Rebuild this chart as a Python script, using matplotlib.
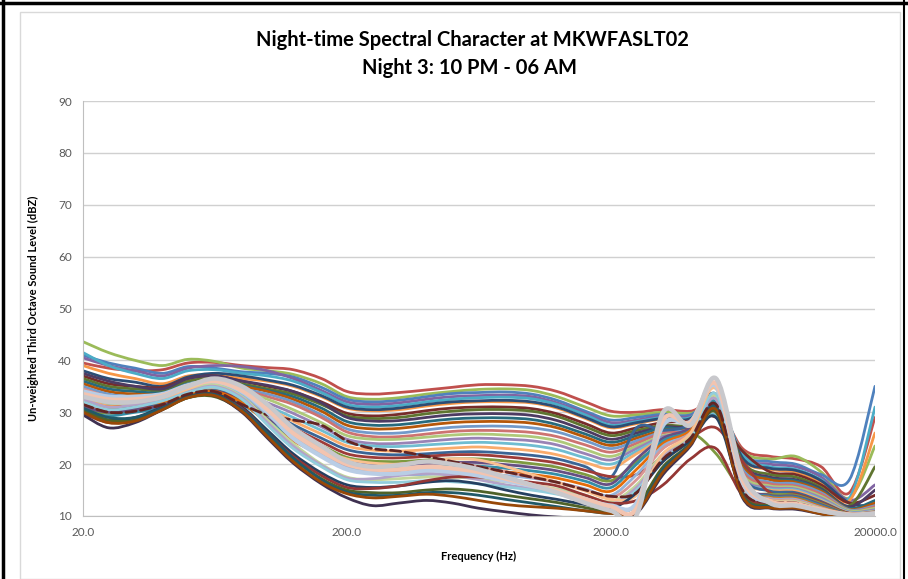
import numpy as np
import matplotlib
matplotlib.use("Agg")
from matplotlib import pyplot as plt
from matplotlib.path import Path
from matplotlib.patches import PathPatch, Rectangle
from matplotlib.lines import Line2D

# third-octave band centre frequencies (Hz)
freqs = [20, 25, 31.5, 40, 50, 63, 80, 100, 125, 160, 200, 250, 315, 400, 500,
         630, 800, 1000, 1250, 1600, 2000, 2500, 3150, 4000, 5000, 6300, 8000,
         10000, 12500, 16000, 20000]

# upper (louder) spectra
a01 = [39.5, 38.5, 38.0, 38.2, 39.5, 39.6, 39.0, 38.6, 38.2, 36.5, 34.0, 33.5, 33.8, 34.3, 34.8, 35.3, 35.3, 35.0, 34.0, 32.0, 30.2, 30.0, 30.5, 30.2, 31.5, 23.0, 21.5, 21.0, 19.5, 14.5, 29.0]
a02 = [43.6, 41.5, 40.0, 39.0, 40.2, 39.8, 38.5, 38.0, 37.3, 35.5, 33.0, 32.5, 32.8, 33.5, 34.0, 34.4, 34.5, 34.2, 33.0, 31.0, 29.3, 29.5, 30.0, 29.8, 31.0, 22.5, 21.0, 21.5, 18.5, 13.5, 23.5]
a03 = [41.0, 39.5, 38.5, 37.5, 38.8, 38.5, 37.8, 37.5, 36.8, 34.8, 32.5, 32.0, 32.3, 33.0, 33.6, 33.8, 33.9, 33.5, 32.3, 30.2, 28.5, 29.0, 29.6, 29.5, 32.5, 22.0, 20.5, 20.0, 18.0, 17.0, 35.0]
a04 = [40.5, 39.0, 38.0, 37.0, 38.5, 39.0, 38.8, 38.0, 36.5, 34.2, 32.0, 31.5, 31.8, 32.5, 33.0, 33.2, 33.3, 33.0, 31.8, 29.8, 28.0, 28.5, 29.3, 29.2, 32.0, 21.5, 20.0, 19.5, 17.5, 13.0, 16.0]
a05 = [41.5, 39.0, 37.5, 36.5, 38.0, 38.2, 37.5, 37.0, 36.0, 33.8, 31.5, 31.0, 31.3, 32.0, 32.5, 32.8, 32.9, 32.6, 31.5, 29.5, 27.5, 28.2, 29.0, 29.0, 33.0, 21.8, 19.5, 19.0, 17.0, 13.5, 31.0]
a06 = [39.0, 37.5, 36.5, 35.5, 37.0, 37.2, 36.5, 36.0, 35.0, 33.0, 30.8, 30.3, 30.5, 31.2, 31.7, 32.0, 32.0, 31.8, 30.8, 28.8, 27.0, 27.8, 28.7, 28.6, 32.5, 21.0, 19.0, 18.5, 16.5, 13.0, 26.0]
a07 = [38.0, 36.5, 35.8, 35.0, 36.8, 37.5, 37.0, 36.2, 35.2, 33.2, 31.0, 30.5, 30.8, 31.5, 32.0, 32.2, 32.3, 32.0, 31.0, 29.0, 27.2, 28.0, 28.8, 28.8, 33.5, 21.2, 19.2, 18.8, 16.8, 12.5, 12.0]
a08 = [37.0, 35.5, 35.0, 34.8, 36.5, 37.0, 36.0, 35.0, 34.0, 32.0, 29.8, 29.3, 29.6, 30.3, 30.8, 31.0, 31.0, 30.7, 29.7, 27.8, 26.0, 27.0, 28.0, 28.3, 29.0, 22.5, 18.5, 18.0, 16.0, 12.5, 14.0]
a09 = [36.5, 35.0, 34.5, 34.2, 36.0, 36.5, 35.5, 34.5, 33.5, 31.5, 29.3, 28.8, 29.0, 29.7, 30.2, 30.5, 30.5, 30.2, 29.2, 27.2, 25.5, 26.5, 27.5, 27.8, 33.0, 20.5, 18.0, 17.5, 15.5, 12.0, 19.5]
a10 = [37.5, 36.0, 35.0, 34.5, 36.5, 37.0, 36.0, 35.2, 34.0, 31.8, 29.0, 28.3, 28.4, 29.0, 29.5, 29.7, 29.7, 29.4, 28.4, 26.5, 24.8, 26.0, 27.2, 27.5, 32.5, 20.0, 17.5, 17.0, 15.2, 11.8, 15.0]
a11 = [36.0, 34.5, 34.0, 33.8, 35.5, 36.0, 35.2, 34.2, 33.0, 30.8, 28.2, 27.5, 27.6, 28.2, 28.7, 28.9, 28.9, 28.6, 27.6, 25.8, 24.2, 25.5, 27.0, 27.2, 33.0, 19.8, 17.2, 16.8, 15.0, 11.5, 13.0]
a12 = [35.5, 34.0, 33.5, 33.5, 35.0, 35.8, 35.0, 34.0, 32.5, 30.2, 27.5, 26.8, 26.9, 27.5, 28.0, 28.2, 28.2, 27.9, 27.0, 25.2, 23.6, 25.0, 26.5, 27.0, 32.0, 19.5, 17.0, 16.5, 14.8, 11.3, 12.5]
a13 = [35.0, 33.5, 33.0, 33.2, 34.8, 35.5, 34.5, 33.5, 32.0, 29.5, 26.8, 26.0, 26.0, 26.6, 27.1, 27.3, 27.3, 27.0, 26.2, 24.5, 23.0, 24.5, 26.2, 26.8, 31.5, 19.0, 16.5, 16.2, 14.5, 11.2, 12.0]
a14 = [34.5, 33.0, 32.5, 32.8, 34.5, 35.2, 34.3, 33.0, 31.5, 29.0, 26.2, 25.3, 25.3, 25.8, 26.3, 26.5, 26.4, 26.1, 25.3, 23.7, 22.3, 24.0, 26.0, 26.5, 31.0, 18.5, 16.2, 15.8, 14.2, 11.0, 11.8]

# middle spectra
b01 = [34.0, 32.5, 32.2, 32.5, 34.2, 35.0, 34.0, 32.5, 30.5, 28.0, 25.5, 24.8, 24.8, 25.2, 25.6, 25.8, 25.6, 25.3, 24.5, 22.8, 21.5, 23.5, 25.5, 26.2, 30.5, 18.0, 15.8, 15.5, 13.8, 11.0, 11.5]
b02 = [33.5, 32.0, 32.0, 32.3, 34.0, 34.8, 33.5, 31.8, 29.8, 27.2, 24.8, 24.0, 24.0, 24.4, 24.8, 25.0, 24.8, 24.5, 23.7, 22.0, 20.8, 23.0, 25.3, 26.0, 30.0, 17.5, 15.5, 15.2, 13.5, 10.8, 11.2]
b03 = [33.0, 31.5, 31.5, 32.0, 33.8, 34.6, 33.2, 31.2, 29.0, 26.5, 24.2, 23.5, 23.4, 23.7, 24.0, 24.2, 24.0, 23.6, 22.8, 21.2, 20.0, 22.5, 25.0, 25.8, 29.5, 17.2, 15.2, 15.0, 13.2, 10.7, 11.0]
b04 = [32.5, 31.2, 31.2, 31.8, 33.6, 34.4, 33.0, 30.8, 28.3, 25.8, 23.5, 22.7, 22.5, 22.8, 23.1, 23.3, 23.0, 22.6, 21.8, 20.3, 19.2, 22.0, 24.8, 25.7, 30.0, 17.0, 15.0, 14.8, 13.0, 10.6, 10.9]
b05 = [32.0, 30.8, 31.0, 31.6, 33.4, 34.2, 32.7, 30.3, 27.6, 25.0, 22.8, 22.0, 21.8, 22.0, 22.3, 22.4, 22.1, 21.7, 21.0, 19.5, 17.5, 27.0, 26.5, 27.5, 31.0, 17.5, 14.8, 14.5, 12.8, 10.5, 10.8]
b06 = [31.5, 30.5, 30.7, 31.3, 33.2, 34.0, 32.3, 29.8, 27.0, 24.3, 22.0, 21.3, 21.2, 21.5, 21.8, 21.8, 21.4, 20.9, 20.2, 18.8, 17.6, 18.0, 21.5, 25.0, 27.0, 20.5, 14.5, 14.2, 12.6, 10.5, 10.7]
b07 = [30.5, 29.8, 30.3, 31.0, 33.0, 33.8, 32.0, 29.3, 26.3, 23.6, 21.3, 20.6, 20.5, 20.8, 21.0, 21.0, 20.6, 20.1, 19.4, 18.0, 16.8, 20.5, 24.0, 26.0, 22.0, 15.0, 14.2, 14.0, 12.4, 10.4, 10.6]
b08 = [31.0, 30.0, 30.5, 31.2, 33.0, 33.7, 31.7, 28.8, 25.7, 23.0, 20.7, 20.0, 19.9, 20.1, 20.3, 20.3, 19.9, 19.4, 18.7, 17.4, 16.2, 21.0, 25.0, 27.0, 32.0, 16.5, 14.0, 13.8, 12.2, 10.3, 10.5]
b09 = [30.0, 29.3, 30.0, 30.8, 32.8, 33.5, 31.5, 28.3, 25.0, 22.3, 20.0, 19.3, 19.2, 19.4, 19.6, 19.6, 19.2, 18.7, 18.0, 16.7, 15.5, 20.0, 24.5, 26.5, 32.0, 16.2, 13.8, 13.6, 12.0, 10.2, 10.4]
b10 = [32.0, 31.0, 31.5, 32.0, 33.5, 34.0, 31.8, 28.0, 24.5, 21.8, 19.5, 18.8, 18.6, 18.8, 19.0, 19.0, 18.5, 18.0, 17.3, 16.0, 14.8, 19.0, 24.0, 26.5, 33.0, 16.0, 13.6, 13.4, 11.8, 10.2, 10.3]
b11 = [33.5, 32.0, 32.0, 32.5, 34.0, 35.5, 33.5, 29.5, 25.5, 22.0, 19.5, 18.5, 18.0, 18.0, 18.2, 18.2, 17.8, 17.3, 16.5, 15.2, 14.0, 18.0, 23.5, 26.0, 32.5, 15.8, 13.4, 13.2, 11.6, 10.1, 10.2]
b12 = [34.5, 33.0, 32.5, 33.0, 34.5, 36.0, 34.0, 30.0, 26.0, 22.5, 19.8, 19.5, 20.0, 20.5, 20.3, 19.5, 18.5, 17.5, 16.5, 15.0, 13.5, 17.0, 23.0, 26.0, 33.0, 15.5, 13.2, 13.0, 11.5, 10.0, 10.1]

# lower (quieter) spectra
c01 = [33.0, 31.8, 31.8, 32.5, 34.3, 35.3, 33.0, 28.5, 24.0, 20.0, 17.5, 17.0, 17.2, 17.5, 17.5, 17.2, 16.6, 16.0, 15.2, 14.0, 12.8, 16.0, 22.0, 25.5, 33.0, 15.2, 13.0, 12.8, 11.4, 10.0, 10.0]
c02 = [32.5, 31.0, 31.5, 32.5, 34.0, 35.0, 32.8, 28.0, 23.5, 19.8, 17.3, 17.2, 17.8, 18.2, 17.8, 17.0, 16.0, 15.3, 14.6, 13.4, 12.3, 15.5, 21.5, 25.0, 32.5, 15.0, 12.8, 12.6, 11.2, 10.0, 10.0]
c03 = [32.0, 30.5, 31.0, 32.2, 33.8, 34.8, 32.5, 27.5, 23.0, 19.5, 17.0, 16.5, 16.5, 16.8, 16.6, 16.2, 15.6, 15.0, 14.2, 13.0, 12.0, 15.0, 21.0, 24.8, 33.5, 14.8, 12.6, 12.4, 11.0, 10.0, 10.0]
c04 = [34.0, 32.5, 32.0, 32.8, 34.5, 36.2, 34.5, 30.5, 26.5, 23.0, 21.0, 20.2, 20.0, 20.5, 21.0, 20.8, 19.5, 18.0, 16.5, 14.8, 13.2, 14.0, 22.0, 26.0, 34.5, 16.0, 13.0, 12.6, 11.0, 10.0, 10.0]
c05 = [30.0, 28.5, 29.0, 31.0, 33.0, 33.5, 31.0, 26.5, 22.0, 18.3, 16.0, 15.5, 15.8, 16.5, 16.8, 16.2, 15.0, 14.0, 13.2, 12.2, 11.5, 14.5, 20.5, 24.5, 29.0, 14.5, 12.4, 12.2, 10.8, 9.8, 10.0]
c06 = [29.8, 28.0, 28.5, 30.8, 33.0, 33.3, 30.7, 26.0, 21.5, 17.8, 15.5, 15.3, 15.8, 16.8, 17.5, 17.5, 17.0, 16.5, 15.8, 14.0, 12.5, 13.0, 16.0, 21.0, 23.0, 14.0, 12.2, 12.0, 10.7, 9.7, 10.0]
c07 = [30.5, 28.5, 28.5, 30.5, 32.8, 33.0, 30.2, 25.5, 21.0, 17.2, 15.0, 14.5, 14.5, 15.0, 15.2, 14.8, 14.0, 13.3, 12.6, 11.6, 10.8, 12.0, 19.5, 24.0, 30.0, 14.2, 12.0, 11.8, 10.6, 9.6, 10.0]
c08 = [29.5, 27.0, 28.0, 30.5, 33.0, 33.2, 30.0, 25.0, 20.2, 16.2, 13.5, 12.0, 12.5, 13.0, 12.5, 11.5, 10.8, 10.2, 9.8, 9.5, 9.3, 10.5, 18.0, 23.5, 30.5, 13.5, 11.5, 11.3, 10.4, 9.5, 10.0]
c09 = [30.8, 29.0, 29.0, 30.8, 33.0, 33.4, 30.5, 26.0, 21.2, 17.0, 14.6, 14.0, 14.0, 14.5, 14.5, 14.0, 13.2, 12.5, 11.8, 11.0, 10.5, 11.0, 19.0, 24.0, 31.0, 14.0, 11.8, 11.6, 10.5, 9.6, 10.0]
c10 = [30.0, 28.0, 28.3, 30.5, 32.8, 33.2, 30.2, 25.3, 20.5, 16.5, 14.3, 13.5, 13.8, 14.2, 13.8, 13.0, 12.2, 11.8, 11.5, 11.0, 10.5, 10.8, 18.5, 23.8, 30.5, 13.8, 11.6, 11.5, 10.4, 9.5, 10.0]
c11 = [31.5, 30.0, 30.2, 31.5, 33.5, 34.0, 31.5, 29.5, 28.5, 27.5, 24.5, 23.0, 22.5, 21.5, 20.5, 19.5, 18.5, 17.5, 16.5, 15.0, 13.8, 14.5, 21.0, 25.0, 31.5, 15.0, 12.8, 12.5, 11.2, 10.0, 10.0]
c12 = [34.0, 33.0, 33.0, 33.5, 35.2, 36.0, 34.0, 30.0, 25.0, 21.5, 19.0, 18.2, 18.2, 18.8, 18.5, 17.8, 16.8, 15.8, 14.8, 13.2, 12.0, 12.5, 27.5, 28.2, 35.0, 16.5, 12.6, 12.2, 11.0, 10.2, 10.3]
c13 = [33.5, 32.5, 32.5, 33.2, 35.0, 36.0, 34.2, 30.5, 26.0, 22.5, 20.0, 19.0, 19.0, 19.5, 19.2, 18.5, 17.2, 16.0, 14.8, 13.2, 11.8, 11.5, 28.5, 28.0, 35.5, 17.0, 12.8, 12.3, 11.2, 10.3, 10.5]
c14 = [33.0, 32.0, 32.0, 33.0, 35.0, 36.5, 35.0, 31.5, 27.0, 23.5, 20.5, 19.5, 19.8, 20.5, 20.0, 19.0, 17.5, 16.0, 14.5, 12.5, 11.0, 10.2, 30.0, 27.5, 36.5, 18.0, 12.5, 12.0, 11.0, 10.2, 10.5]

series = [a01, a02, a03, a04, a05, a06, a07, a08, a09, a10, a11, a12, a13, a14,
          b01, b02, b03, b04, b05, b06, b07, b08, b09, b10, b11, b12,
          c01, c02, c03, c04, c05, c06, c07, c08, c09, c10, c11, c12, c13, c14]

colors = ["#C0504D", "#9BBB59", "#4F81BD", "#8064A2", "#4BACC6", "#F79646",
          "#2C4D75", "#772C2A", "#5F7530", "#4D3B62", "#276A7C", "#B65708",
          "#729ACA", "#CD7371",
          "#AFC97A", "#9983B5", "#6FBDD1", "#F9AB6B", "#3A6595", "#9E3B38",
          "#7E9A40", "#664F83", "#358DA6", "#E46C0A", "#95B3D7", "#D99694",
          "#C3D69B", "#B3A2C7", "#92CDDC", "#FAC090", "#254061", "#943634",
          "#4F6228", "#3F3151", "#215968", "#984807", "#632523", "#B9CDE5",
          "#F2C4B0", "#C8C8CC"]


def smooth_path(x, y):
    # Excel-like smoothed line: cubic Bezier through every point (log-x space)
    lx = np.log10(x)
    y = np.asarray(y, dtype=float)
    n = len(lx)
    verts = [(x[0], y[0])]
    codes = [Path.MOVETO]
    for i in range(n - 1):
        i0 = max(i - 1, 0)
        i3 = min(i + 2, n - 1)
        c1 = (lx[i] + (lx[i + 1] - lx[i0]) / 6, y[i] + (y[i + 1] - y[i0]) / 6)
        c2 = (lx[i + 1] - (lx[i3] - lx[i]) / 6, y[i + 1] - (y[i3] - y[i]) / 6)
        verts += [(10 ** c1[0], c1[1]), (10 ** c2[0], c2[1]), (x[i + 1], y[i + 1])]
        codes += [Path.CURVE4] * 3
    return Path(verts, codes)


plt.rcParams["font.family"] = ["Lato", "DejaVu Sans"]

fig = plt.figure(figsize=(9.08, 5.79), dpi=100)
ax = fig.add_axes([83 / 908, 1 - 516 / 579, (875 - 83) / 908, (516 - 101) / 579])
ax.set_xscale("log")

for i, (vals, col) in enumerate(zip(series, colors)):
    lw = 3.2 if i >= len(series) - 3 else 2.0
    ls = "--" if vals is c11 else "-"
    patch = PathPatch(smooth_path(freqs, vals), facecolor="none", edgecolor=col,
                      lw=lw, ls=ls, capstyle="round", joinstyle="round", zorder=2 + i * 0.01)
    ax.add_patch(patch)

ax.set_xlim(20, 20000)
ax.set_ylim(10, 90)
ax.set_yticks(range(10, 91, 10))
ax.set_xticks([20, 200, 2000, 20000])
ax.set_xticklabels(["20.0", "200.0", "2000.0", "20000.0"])
ax.minorticks_off()
ax.tick_params(length=0, labelsize=8.5, colors="#595959", pad=8)
ax.grid(axis="y", color="#D0D0D0", lw=1)
ax.set_axisbelow(True)
for side in ["top", "right"]:
    ax.spines[side].set_visible(False)
for side in ["left", "bottom"]:
    ax.spines[side].set_color("#BFBFBF")

ax.set_xlabel("Frequency (Hz)", fontsize=8, fontweight="bold", labelpad=9)
ax.set_ylabel("Un-weighted Third Octave Sound Level (dBZ)", fontsize=8,
              fontweight="bold", labelpad=14)

fig.text(472 / 908, 1 - 40 / 579, "Night-time Spectral Character at MKWFASLT02",
         ha="center", va="center", fontsize=14.5, fontweight="bold")
fig.text(470 / 908, 1 - 68 / 579, "Night 3: 10 PM - 06 AM",
         ha="center", va="center", fontsize=14.5, fontweight="bold")

# outer frame of the pasted chart
fig.add_artist(Rectangle((20 / 908, 0), 880 / 908, 1 - 12 / 579, transform=fig.transFigure,
                         fill=False, edgecolor="#D9D9D9", lw=1))
fig.add_artist(Line2D([0, 1], [1 - 3 / 579] * 2, color="black", lw=2.5))
fig.add_artist(Line2D([3 / 908] * 2, [0, 1], color="black", lw=2.5))
fig.add_artist(Line2D([904 / 908] * 2, [0, 1], color="black", lw=1.5))

fig.savefig("out.png", dpi=100)
